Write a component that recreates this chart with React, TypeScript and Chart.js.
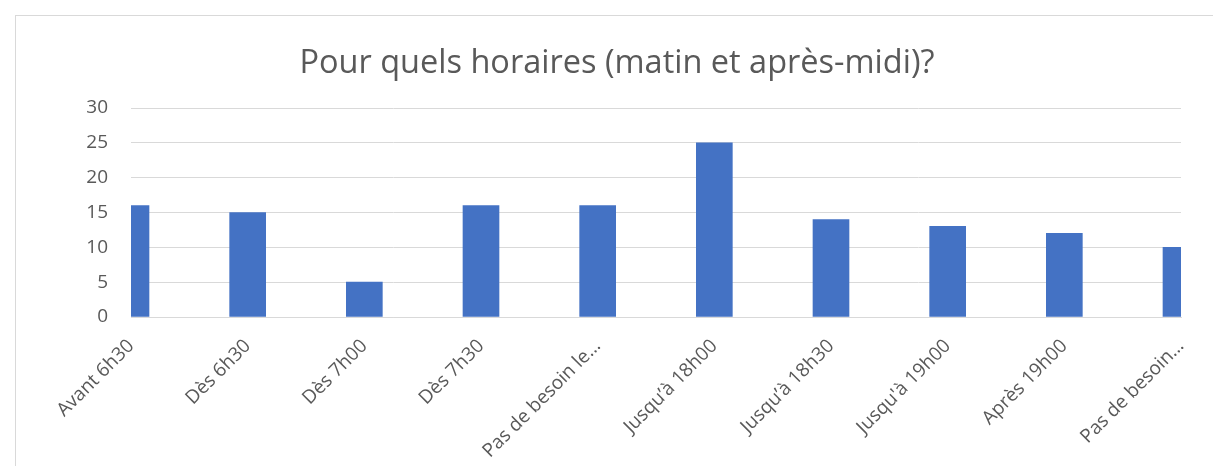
import React, { useEffect, useRef } from "react";
import { Chart, registerables } from "chart.js";

Chart.register(...registerables);

const titleText = "Pour quels horaires (matin et après-midi)?";
const categories = [
  "Avant 6h30",
  "Dès 6h30",
  "Dès 7h00",
  "Dès 7h30",
  "Pas de besoin le…",
  "Jusqu’à 18h00",
  "Jusqu’à 18h30",
  "Jusqu'à 19h00",
  "Après 19h00",
  "Pas de besoin…",
];
const values = [16, 15, 5, 16, 16, 25, 14, 13, 12, 10];
const yMin = 0;
const yMax = 30;
const yStep = 5;

const FONT = "'Open Sans', sans-serif";
const TEXT = "#595959";
const GRID = "#d9d9d9";

export default function App() {
  const ref = useRef<HTMLCanvasElement | null>(null);

  useEffect(() => {
    document.body.style.margin = "0";
    const canvas = ref.current;
    if (!canvas) return;
    const chart = new Chart(canvas, {
      type: "bar",
      data: {
        labels: categories,
        datasets: [
          {
            data: values,
            backgroundColor: "#4472C4",
            borderWidth: 0,
            barThickness: 36,
            clip: 0,
          } as any,
        ],
      },
      options: {
        animation: false,
        responsive: false,
        maintainAspectRatio: false,
        layout: { padding: { left: 37, right: 39, top: 0, bottom: 0 } },
        plugins: {
          legend: { display: false },
          tooltip: { enabled: false },
          title: {
            display: true,
            text: titleText,
            color: TEXT,
            font: { family: FONT, size: 32.5, weight: "normal" },
            padding: { top: 28, bottom: 25 },
          },
        },
        scales: {
          x: {
            offset: false,
            grid: { display: false, drawTicks: false },
            border: { display: true, color: GRID, width: 1 },
            ticks: {
              autoSkip: false,
              maxRotation: 45,
              minRotation: 45,
              padding: 18,
              color: TEXT,
              font: { family: FONT, size: 19 },
            },
            afterFit: (scale: any) => {
              scale.height = 179;
            },
          },
          y: {
            min: yMin,
            max: yMax,
            grid: { color: GRID, lineWidth: 1, drawTicks: false },
            border: { display: false },
            ticks: {
              stepSize: yStep,
              padding: 23,
              color: TEXT,
              font: { family: FONT, size: 19 },
            },
            afterFit: (scale: any) => {
              scale.width = 78;
            },
          },
        },
      },
    });
    return () => chart.destroy();
  }, []);

  return (
    <div style={{ position: "relative", width: 1213, height: 466, overflow: "hidden", background: "#fff" }}>
      <div
        style={{
          position: "absolute",
          left: 15,
          top: 15,
          width: 1204,
          height: 480,
          border: `1px solid ${GRID}`,
        }}
      >
        <canvas ref={ref} width={1204} height={480} style={{ display: "block" }} />
      </div>
    </div>
  );
}
